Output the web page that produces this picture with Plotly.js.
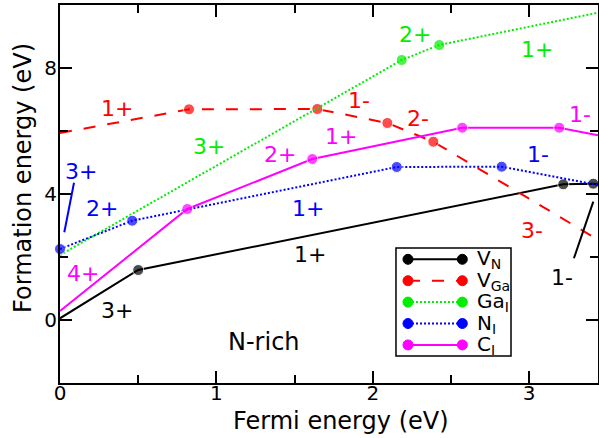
<!DOCTYPE html>
<html><head><meta charset="utf-8">
<script src="https://cdn.plot.ly/plotly-3.0.1.min.js"></script>
<style>html,body{margin:0;padding:0;background:#fff}#chart{width:599px;height:438px}</style>
</head><body><div id="chart"></div><script>
// ---- data (Fermi energy in eV, formation energy in eV) ----
const seriesNames = ["V<sub>N</sub>", "V<sub>Ga</sub>", "Ga<sub>I</sub>", "N<sub>I</sub>", "C<sub>I</sub>"];
const vnX  = [0, 0.500, 3.218, 3.410, 3.44];
const vnY  = [0.054, 1.587, 4.308, 4.327, 4.30];
const vnDot = [0, 1, 1, 1, 0];
const vgaX = [0, 0.825, 1.645, 2.093, 2.387, 3.44];
const vgaY = [5.937, 6.689, 6.698, 6.254, 5.660, 2.55];
const vgaDot = [0, 1, 1, 1, 1, 0];
const gaiX = [0, 2.185, 2.425, 3.44];
const gaiY = [2.063, 8.254, 8.730, 9.756];
const gaiDot = [0, 1, 1, 0];
const niX  = [0, 0.462, 2.153, 2.824, 3.44];
const niY  = [2.254, 3.152, 4.857, 4.867, 4.286];
const niDot = [1, 1, 1, 1, 0];
const ciX  = [0, 0.814, 1.613, 2.572, 3.192, 3.44];
const ciY  = [0.286, 3.524, 5.111, 6.105, 6.105, 5.863];
const ciDot = [0, 1, 1, 1, 1, 0];

// charge-state labels: text, x, y, series index
const labelText = ["3+","1+","1-", "1+","1-","2-","3-", "3+","2+","1+", "3+","2+","1+","1-", "4+","2+","1+","1-"];
const labelX    = [0.363,1.598,3.212, 0.363,1.914,2.291,3.016, 0.953,2.270,3.052, 0.134,0.267,1.588,3.058, 0.149,1.407,1.795,3.325];
const labelY    = [0.317,2.086,1.356, 6.72,6.98,6.40,2.857, 5.50,9.05,8.59, 4.71,3.546,3.546,5.26, 1.48,5.24,5.84,6.51];
const labelSer  = [0,0,0, 1,1,1,1, 2,2,2, 3,3,3,3, 4,4,4,4];

// pointer lines for narrow ranges: [x0,y0,x1,y1], series index
const pointerLines = [[0.0895,4.359,0.0275,2.784],[3.286,1.959,3.410,3.756]];
const pointerSer = [3,0];

const xRange = [0, 3.44];
const yRange = [-2, 10];

// ---- styles ----
const colors = ["#000000", "#ff0000", "#00ee00", "#0000ff", "#ff00ff"];
const dashes = ["solid", "12px,12px", "2px,2px", "2px,2px", "solid"];
const FONT = "DejaVu Sans";

const xs = [vnX, vgaX, gaiX, niX, ciX];
const ys = [vnY, vgaY, gaiY, niY, ciY];
const dots = [vnDot, vgaDot, gaiDot, niDot, ciDot];

const traces = xs.map((x, i) => ({
  type: "scatter", mode: "lines+markers", name: seriesNames[i],
  x: x, y: ys[i],
  line: {color: colors[i], width: 2, dash: dashes[i]},
  marker: {color: colors[i], size: dots[i].map(d => d ? 11 : 0)},
  cliponaxis: false, showlegend: false, hoverinfo: "skip"
}));

const annotations = labelText.map((t, i) => ({
  x: labelX[i], y: labelY[i], xref: "x", yref: "y", text: t, showarrow: false,
  xanchor: "center", yanchor: "middle",
  font: {family: FONT, size: 22, color: colors[labelSer[i]]}
}));
annotations.push({x: 1.306, y: -0.69, xref: "x", yref: "y", text: "N-rich", showarrow: false,
  xanchor: "center", yanchor: "middle", font: {family: FONT, size: 24, color: "#000"}});
// axis titles
annotations.push({x: 0.522, y: -0.1, xref: "paper", yref: "paper", text: "Fermi energy (eV)",
  showarrow: false, xanchor: "center", yanchor: "middle", font: {family: FONT, size: 24, color: "#000"}});
annotations.push({x: -0.068, y: 0.5437, xref: "paper", yref: "paper", text: "Formation energy (eV)",
  textangle: -90, showarrow: false, xanchor: "center", yanchor: "middle", font: {family: FONT, size: 24, color: "#000"}});

const shapes = pointerLines.map((p, i) => ({
  type: "line", xref: "x", yref: "y", x0: p[0], y0: p[1], x1: p[2], y1: p[3],
  line: {color: colors[pointerSer[i]], width: 2}
}));

// custom legend (markers at both ends of the line sample)
const lgBox = {x0: 0.6245, x1: 0.8383, y0: 0.0714, y1: 0.357};
const lgLineX = [0.6468, 0.7478];
const lgTextX = 0.7714;
const lgRowTop = 0.3272, lgRowStep = 0.0566;
shapes.push({type: "rect", xref: "paper", yref: "paper", x0: lgBox.x0, x1: lgBox.x1, y0: lgBox.y0, y1: lgBox.y1,
  line: {color: "#000", width: 1.5}, fillcolor: "#fff", layer: "above"});
seriesNames.forEach((n, i) => {
  const yy = lgRowTop - i * lgRowStep;
  shapes.push({type: "line", xref: "paper", yref: "paper", x0: lgLineX[0], x1: lgLineX[1], y0: yy, y1: yy,
    line: {color: colors[i], width: 2, dash: dashes[i]}, layer: "above"});
  lgLineX.forEach(lx => shapes.push({type: "circle", xref: "paper", yref: "paper",
    xsizemode: "pixel", ysizemode: "pixel", xanchor: lx, yanchor: yy,
    x0: -5, x1: 5, y0: -5, y1: 5, fillcolor: colors[i], line: {color: colors[i], width: 1}, layer: "above"}));
  annotations.push({x: lgTextX, y: yy, xref: "paper", yref: "paper", text: n, showarrow: false,
    xanchor: "left", yanchor: "middle", font: {family: FONT, size: 20, color: "#000"}});
});

const axisCommon = {
  showgrid: false, zeroline: false, showline: true, linecolor: "#000", linewidth: 2,
  mirror: "ticks", ticks: "inside", ticklen: 12, tickwidth: 2, tickcolor: "#000",
  tickfont: {family: FONT, size: 20, color: "#000"}
};

const layout = {
  width: 599, height: 438,
  margin: {l: 60, r: 1, t: 5, b: 55},
  paper_bgcolor: "#fff", plot_bgcolor: "#fff",
  showlegend: false,
  xaxis: Object.assign({}, axisCommon, {range: xRange, tick0: 0, dtick: 1, ticklabelstandoff: -9,
    minor: {dtick: 0.5, ticks: "inside", ticklen: 8, tickwidth: 2, tickcolor: "#000"}}),
  yaxis: Object.assign({}, axisCommon, {range: yRange, tick0: 0, dtick: 4, ticklabelstandoff: -3,
    minor: {dtick: 2, ticks: "inside", ticklen: 8, tickwidth: 2, tickcolor: "#000"}}),
  annotations: annotations,
  shapes: shapes
};

Plotly.newPlot("chart", traces, layout, {displayModeBar: false, staticPlot: true});
</script></body></html>
